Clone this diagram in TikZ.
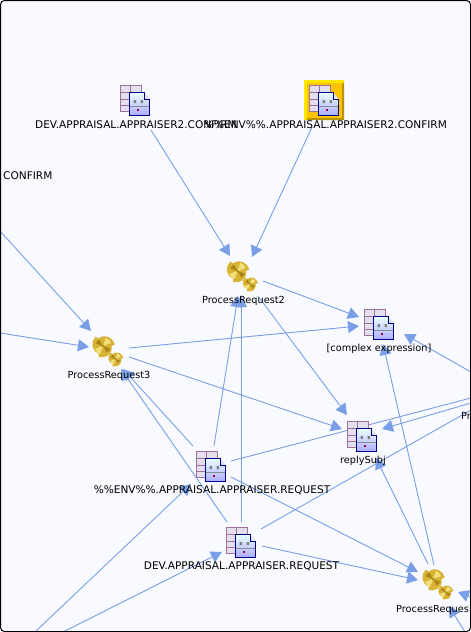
\documentclass[tikz,border=0pt]{standalone}
\usepackage{fontspec}
\usepackage{tikz}
\usepackage{xcolor}
\setmainfont{DejaVu Sans}
\usetikzlibrary{arrows.meta}
\definecolor{canvasbg}{HTML}{F8FAFF}
\definecolor{flowblue}{HTML}{7A9FE6}
\definecolor{tblpurple}{HTML}{A0709C}
\definecolor{tblfill}{HTML}{E4DFEC}
\definecolor{docblue}{HTML}{00008C}
\definecolor{goldlight}{HTML}{F2E07C}
\definecolor{goldmid}{HTML}{D8B232}
\definecolor{golddark}{HTML}{A88418}
\definecolor{selfill}{HTML}{FFC400}
\definecolor{seltop}{HTML}{FFE600}
\definecolor{selbot}{HTML}{B89400}
\tikzset{
  tblicon/.pic={
    \draw[tblpurple, fill=tblfill, line width=0.9pt] (-15,-15) rectangle (6,11.7);
    \draw[tblpurple, line width=0.9pt] (-4.5,-15) -- (-4.5,-7.7);
    \draw[tblpurple, line width=0.9pt] (-15,-7.7) -- (-5.7,-7.7);
    \draw[tblpurple, line width=0.9pt] (-15,-1) -- (-5.7,-1);
    \draw[tblpurple, line width=0.9pt] (-15,5) -- (-5.7,5);
    \fill[blue!12] (9,-7.7) -- (14.7,-1) -- (9,-1) -- cycle;
    \shade[top color=cyan!8, bottom color=blue!32!white]
      (-5.7,-7.7) -- (9,-7.7) -- (9,-1) -- (14.7,-1) -- (14.7,15.3) -- (-5.7,15.3) -- cycle;
    \draw[black!45, line width=0.6pt] (-5.7,6) -- (14.7,6);
    \fill[black!50] (-1.5,0) rectangle (1,3) (5.5,0) rectangle (8,3);
    \fill[purple!80!black] (2.2,9.3) rectangle (4.2,11.3);
    \draw[docblue, line width=1pt]
      (-5.7,-7.7) -- (9,-7.7) -- (9,-1) -- (14.7,-1) -- (14.7,15.3) -- (-5.7,15.3) -- cycle;
  },
  gearicon/.pic={
    \fill[goldmid]
      (0:8) .. controls (40:12) and (80:12) .. (112:11) -- (120:8)
      .. controls (160:12) and (200:12) .. (232:11) -- (240:8)
      .. controls (280:12) and (320:12) .. (352:11) -- cycle;
    \fill[goldlight] (0,0) -- (-70:8) arc (-70:-20:8) -- cycle;
    \fill[goldlight] (0,0) -- (110:8) arc (110:160:8) -- cycle;
    \fill[golddark] (0,0) -- (20:7) arc (20:60:7) -- cycle;
    \fill[golddark] (0,0) -- (200:7) arc (200:240:7) -- cycle;
    \fill[golddark] (0,0) circle (1.1);
  }
}
\begin{document}
\begin{tikzpicture}[
      x=1pt, y=-1pt,
      font=\fontsize{10.55pt}{12pt}\selectfont,
      hub/.style={inner sep=0pt, minimum size=30pt},
      lbl/.style={inner sep=0pt, text=black},
      mixlbl/.style={lbl, font=\fontsize{9.75pt}{12pt}\selectfont},
      flow/.style={draw=flowblue, line width=0.9pt, -{Triangle[length=11pt,width=12pt,fill=flowblue]}},
      flowout/.style={draw=flowblue, line width=0.9pt}
    ]
    \useasboundingbox (0,0) rectangle (471,632);
    \fill[white] (0,0) rectangle (471,632);
    \begin{scope}
    \clip[rounded corners=4pt] (0,0) rectangle (471,632);
    \fill[canvasbg] (0,0) rectangle (471,632);

    % --- icon positions -----------------------------------------------------
    \node[hub] (devconf) at (135,100) {};
    \node[hub] (envconf) at (324,100) {};
    \node[hub] (complex) at (379,324) {};
    \node[hub] (reply)   at (362,436) {};
    \node[hub] (envreq)  at (211,466) {};
    \node[hub] (devreq)  at (241,542) {};
    \node[hub] (proc2)   at (241,275) {};
    \node[hub] (proc3)   at (106.5,350) {};
    \node[hub] (procr)   at (436.5,583) {};

    % --- free ends outside the view -----------------------------------------
    \coordinate (offa) at (471,398);
    \coordinate (offb) at (471,410);
    \coordinate (offc) at (471,403);
    \coordinate (offd) at (471,372);
    \coordinate (offe) at (471,597);
    \coordinate (offf) at (465,632);
    \coordinate (offg) at (0,231);
    \coordinate (offh) at (0,333);
    \coordinate (offi) at (35,632);
    \coordinate (offj) at (63,632);

    % --- into ProcessRequest2 -----------------------------------------------
    \draw[flow] ([shift={(16,30)}]devconf.center) -- ([shift={(-11,-19)}]proc2.center);
    \draw[flow] ([shift={(-12,27)}]envconf.center) -- ([shift={(11,-18)}]proc2.center);
    \draw[flow] ([shift={(3,-20)}]envreq.center) -- ([shift={(-3,21)}]proc2.center);
    \draw[flow] ([shift={(0,-20)}]devreq.center) -- ([shift={(0,21)}]proc2.center);

    % --- into ProcessRequest3 -----------------------------------------------
    \draw[flow] ([shift={(-18,-20)}]envreq.center) -- ([shift={(16.5,19)}]proc3.center);
    \draw[flow] ([shift={(-14,-20)}]devreq.center) -- ([shift={(14.5,19)}]proc3.center);
    \draw[flow] (offg) -- ([shift={(-15.5,-19)}]proc3.center);
    \draw[flow] (offh) -- ([shift={(-17.5,-3)}]proc3.center);

    % --- into the expression ------------------------------------------------
    \draw[flow] ([shift={(22,6)}]proc2.center) -- ([shift={(-20,-7)}]complex.center);
    \draw[flow] ([shift={(22.5,-2)}]proc3.center) -- ([shift={(-20,2)}]complex.center);
    \draw[flow] ([shift={(-2.5,-18)}]procr.center) -- ([shift={(4,20)}]complex.center);
    \draw[flow] (offd) -- ([shift={(25,10)}]complex.center);

    % --- into replySubj -----------------------------------------------------
    \draw[flow] ([shift={(17,21)}]proc2.center) -- ([shift={(-15,-21)}]reply.center);
    \draw[flow] ([shift={(22.5,7)}]proc3.center) -- ([shift={(-20,-7)}]reply.center);
    \draw[flow] ([shift={(-8.5,-19)}]procr.center) -- ([shift={(14,22)}]reply.center);
    \draw[flow] (offc) -- ([shift={(20,-7)}]reply.center);

    % --- into the lower right process ---------------------------------------
    \draw[flow] ([shift={(20,11)}]envreq.center) -- ([shift={(-18.5,-11)}]procr.center);
    \draw[flow] ([shift={(21,4)}]devreq.center) -- ([shift={(-18.5,-3)}]procr.center);
    \draw[flow] (offe) -- ([shift={(21.5,9)}]procr.center);
    \draw[flow] (offf) -- ([shift={(12.5,23)}]procr.center);

    % --- requests, from below and out to the right --------------------------
    \draw[flow] (offi) -- ([shift={(-20,18)}]envreq.center);
    \draw[flow] (offj) -- ([shift={(-19,10)}]devreq.center);
    \draw[flowout] ([shift={(20,-5)}]envreq.center) -- (offa);
    \draw[flowout] ([shift={(20,-13)}]devreq.center) -- (offb);

    % --- selection behind the second icon -----------------------------------
    \fill[seltop] (304,80) rectangle (344,120);
    \fill[selbot] (306,120) -- (344,120) -- (344,82) -- (342,84) -- (342,118) -- (308,118) -- cycle;
    \fill[selfill] (307,83) rectangle (342,118);

    % --- icons --------------------------------------------------------------
    \foreach \tbl in {devconf,envconf,complex,reply,envreq,devreq}
      \pic at (\tbl) {tblicon};
    \foreach \proc in {proc2,proc3,procr} {
      \pic[scale=1.08] at ([shift={(-3.5,-4)}]\proc.center) {gearicon};
      \pic[scale=0.72] at ([shift={(9,9)}]\proc.center) {gearicon};
    }

    % --- labels -------------------------------------------------------------
    \node[lbl] (devconflbl) at (136,124.5) {DEV.APPRAISAL.APPRAISER2.CONFIRM};
    \node[lbl] (envconflbl) at (325.5,124.5) {\%\%ENV\%\%.APPRAISAL.APPRAISER2.CONFIRM};
    \node[lbl, anchor=west] (cutlbl) at (3,175.5) {CONFIRM};
    \node[mixlbl] (proc2lbl) at (243.5,300.5) {ProcessRequest2};
    \node[mixlbl] (proc3lbl) at (109,375.5) {ProcessRequest3};
    \node[mixlbl] (complexlbl) at (379,348.5) {[complex expression]};
    \node[mixlbl] (replylbl) at (363,460.5) {replySubj};
    \node[lbl] (envreqlbl) at (212,490.5) {\%\%ENV\%\%.APPRAISAL.APPRAISER.REQUEST};
    \node[lbl] (devreqlbl) at (241.5,566.5) {DEV.APPRAISAL.APPRAISER.REQUEST};
    \node[mixlbl, anchor=west] (procrlbl) at (396,609.5) {ProcessReques};
    \node[mixlbl, anchor=west] (prlbl) at (461,415.5) {Pr};
    \end{scope}

    % --- frame --------------------------------------------------------------
    \draw[black, line width=1pt, rounded corners=4pt] (0.5,0.5) rectangle (470.5,631.5);
  \end{tikzpicture}
\end{document}
